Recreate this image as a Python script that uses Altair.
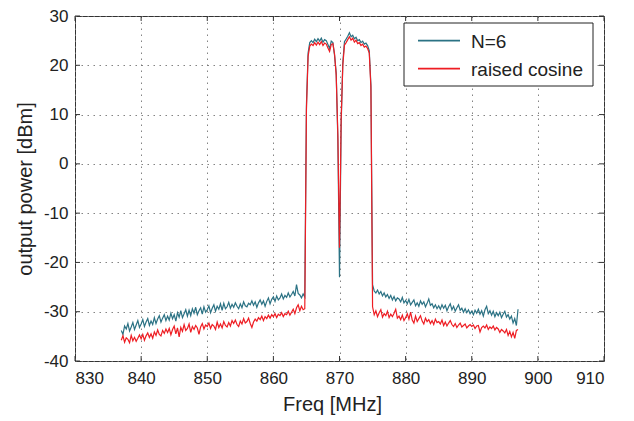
import altair as alt
import pandas as pd

# frequency grid of the measured spectra (MHz)
freq_start = 837.0
freq_step = 0.25

# N=6 output power (dBm), one row per MHz (4 samples each)
n6 = [
    -33.8, -34.6, -32.9, -33.5,
    -32.4, -33.9, -33.1, -32.2,
    -33.6, -32.7, -31.8, -33.2,
    -32.5, -31.6, -33.0, -32.1,
    -31.4, -32.8, -31.9, -32.6,
    -31.2, -32.4, -31.5, -30.8,
    -32.1, -31.3, -30.6, -31.8,
    -30.9, -31.7, -30.3, -31.4,
    -30.6, -31.9, -30.2, -31.1,
    -29.8, -31.2, -30.4, -29.6,
    -30.9, -29.7, -30.8, -29.4,
    -30.3, -29.1, -30.6, -29.8,
    -29.2, -30.5, -29.0, -30.1,
    -29.6, -28.8, -30.2, -29.3,
    -28.6, -29.9, -28.9, -29.5,
    -28.4, -29.7, -28.3, -29.4,
    -29.0, -28.1, -29.3, -28.5,
    -29.1, -28.2, -28.9, -29.4,
    -28.4, -29.2, -28.0, -28.8,
    -29.0, -28.3, -28.6, -27.8,
    -28.7, -28.0, -29.1, -28.2,
    -27.6, -28.5, -27.8, -28.9,
    -27.9, -27.2, -28.4, -27.5,
    -27.0, -27.9, -26.8, -27.6,
    -27.2, -26.4, -27.4, -26.7,
    -27.1, -26.2, -27.0, -26.5,
    -25.9, -26.8, -24.5, -26.3,
    -26.6, -27.2, -26.4, -27.0,
    12.0, 22.5, 24.6, 25.0,
    24.6, 25.3, 24.8, 25.4,
    24.9, 25.5, 24.7, 25.2,
    25.0, 24.2, 23.4, 24.9,
    24.6, 22.0, 18.5, 5.0,
    -23.0, 8.0, 20.5, 24.8,
    25.3, 25.9, 26.6, 25.8,
    26.1, 25.4, 25.7, 25.0,
    25.2, 24.6, 24.9, 24.3,
    24.5, 24.0, 23.0, 16.0,
    -24.5, -25.8, -26.2, -25.6,
    -26.4, -25.9, -26.8, -26.2,
    -27.0, -26.5, -27.3, -26.7,
    -27.6, -26.9, -27.8, -27.2,
    -27.4, -28.0, -27.1, -28.2,
    -27.7, -28.4, -27.5, -28.6,
    -28.1, -27.6, -28.8, -28.2,
    -28.9, -27.8, -28.5, -28.0,
    -29.0, -28.3, -27.4, -28.7,
    -28.4, -29.2, -28.6, -29.4,
    -28.8, -29.5, -28.6, -29.3,
    -28.7, -29.8, -29.0, -28.4,
    -29.6, -28.9, -29.9, -29.2,
    -28.6, -29.7, -29.3, -30.1,
    -29.4, -30.2, -29.6, -30.4,
    -29.9, -30.6, -29.7, -30.3,
    -29.5, -30.5, -29.8, -30.9,
    -29.6, -28.9, -30.4, -29.8,
    -30.7, -29.9, -31.0, -30.2,
    -30.8, -30.1, -31.2, -30.5,
    -29.9, -31.1, -30.6, -31.5,
    -30.9, -32.3, -31.4, -32.8,
    -29.5,
]

# raised cosine output power (dBm)
rc = [
    -35.8, -34.9, -36.2, -35.3,
    -35.6, -36.3, -34.8, -35.9,
    -35.2, -36.0, -35.4, -34.7,
    -35.5, -34.6, -35.8, -34.9,
    -34.3, -35.2, -34.5, -35.4,
    -34.1, -34.8, -33.7, -34.6,
    -34.9, -33.8, -34.4, -33.5,
    -34.2, -33.4, -34.7, -33.6,
    -32.9, -34.5, -33.3, -35.1,
    -33.2, -34.0, -32.6, -33.8,
    -33.4, -32.5, -34.2, -33.0,
    -33.6, -32.8, -33.3, -34.6,
    -33.1, -32.4, -33.5, -32.7,
    -33.0, -32.3, -33.4, -32.6,
    -32.9, -33.6, -32.1, -33.2,
    -32.5, -33.3, -32.0, -32.8,
    -33.1, -32.2, -32.9, -31.8,
    -32.4, -31.7, -32.6, -33.0,
    -31.9, -32.5, -31.4, -32.3,
    -32.0, -31.3, -32.4, -33.2,
    -32.1, -31.5, -31.9, -31.2,
    -31.6, -30.9, -31.8, -31.0,
    -31.4, -30.7, -31.3, -30.6,
    -31.0, -30.4, -31.2, -30.5,
    -30.8, -30.2, -31.0, -30.4,
    -30.6, -29.9, -30.7, -30.1,
    -29.5, -30.4, -29.2, -28.6,
    -29.8, -28.9, -29.6, -29.4,
    11.0, 21.8, 23.9, 24.3,
    24.0, 24.6, 24.1, 24.7,
    24.2, 24.8, 24.0, 24.5,
    24.3, 23.5, 22.8, 24.2,
    24.4, 22.3, 18.0, 6.0,
    -17.0, 9.0, 20.0, 24.1,
    24.6, 25.2, 25.8, 25.1,
    25.5, 24.7, 25.1, 24.4,
    24.6, 24.0, 24.3, 23.7,
    23.9, 23.4, 22.5, 15.5,
    -29.0, -30.6, -29.8, -31.0,
    -30.2, -29.6, -31.1, -30.4,
    -30.8, -29.9, -31.2, -30.5,
    -31.0, -30.3, -29.5, -31.3,
    -30.9, -31.6, -30.7, -31.8,
    -31.2, -30.4, -31.5, -30.1,
    -31.7, -32.3, -30.9, -32.0,
    -31.4, -30.8, -31.9, -32.5,
    -31.3, -32.0, -31.6, -32.4,
    -31.8, -32.6, -31.5, -32.2,
    -32.0, -32.5, -31.7, -32.8,
    -32.1, -32.9, -32.3, -31.8,
    -32.6, -33.0, -32.4, -33.2,
    -32.7, -32.3, -33.1, -32.8,
    -32.5, -33.3, -32.9, -32.6,
    -33.0, -32.7, -33.4, -32.9,
    -32.8, -34.1, -33.2, -32.9,
    -33.3, -32.7, -33.6, -33.1,
    -33.4, -32.9, -33.7, -33.2,
    -33.5, -34.2, -33.6, -33.9,
    -34.3, -33.6, -34.8, -34.0,
    -35.1, -34.2, -35.4, -33.8,
    -33.6,
]

x_ticks = [830, 840, 850, 860, 870, 880, 890, 900, 910]
y_ticks = [-40, -30, -20, -10, 0, 10, 20, 30]
series_names = ["N=6", "raised cosine"]
series_colors = ["#2b7284", "#ee1d23"]

W, H = 529, 345
FONT = "Liberation Sans"

freq = [freq_start + freq_step * i for i in range(len(n6))]
df = pd.DataFrame({
    "freq": freq + freq,
    "power": n6 + rc,
    "series": [series_names[0]] * len(n6) + [series_names[1]] * len(rc),
})

xscale = alt.Scale(domain=[830, 910], nice=False, zero=False)
yscale = alt.Scale(domain=[-40, 30], nice=False, zero=False)

x_axis = alt.Axis(values=x_ticks, title="Freq [MHz]", labelExpr="'' + datum.value",
                  titleX=257, titleY=43, titleBaseline="middle",
                  labelPadding=9)
y_axis = alt.Axis(values=y_ticks, title="output power [dBm]", labelExpr="'' + datum.value",
                  titleX=-50, titleY=H / 2, titleBaseline="middle",
                  titleAngle=-90, labelPadding=7)


def xenc():
    return alt.X("freq:Q", scale=xscale, axis=x_axis)


def yenc():
    return alt.Y("power:Q", scale=yscale, axis=y_axis)


lines = alt.Chart(df).mark_line(strokeWidth=1.2).encode(
    x=xenc(),
    y=yenc(),
    color=alt.Color("series:N",
                    scale=alt.Scale(domain=series_names, range=series_colors),
                    legend=None),
)

xt = pd.DataFrame({"freq": x_ticks})
yt = pd.DataFrame({"power": y_ticks})
tick_style = dict(color="#333", strokeWidth=1)
xtick_b = alt.Chart(xt).mark_rule(**tick_style).encode(
    x=xenc(), y=alt.value(H), y2=alt.value(H - 5))
xtick_t = alt.Chart(xt).mark_rule(**tick_style).encode(
    x=xenc(), y=alt.value(0), y2=alt.value(5))
ytick_l = alt.Chart(yt).mark_rule(**tick_style).encode(
    y=yenc(), x=alt.value(0), x2=alt.value(5))
ytick_r = alt.Chart(yt).mark_rule(**tick_style).encode(
    y=yenc(), x=alt.value(W), x2=alt.value(W - 5))

# legend box drawn as marks (box top-right of the plot)
one = pd.DataFrame({"k": [0]})
LX0, LX1, LY0, LY1 = 329, 518, 7, 70
row_y = [24.7, 52.7]
leg_box = alt.Chart(one).mark_rect(fill="white", stroke="#222", strokeWidth=1).encode(
    x=alt.value(LX0), x2=alt.value(LX1), y=alt.value(LY0), y2=alt.value(LY1))
leg_layers = [leg_box]
for name, col, ry in zip(series_names, series_colors, row_y):
    leg_layers.append(alt.Chart(one).mark_rule(color=col, strokeWidth=1.8).encode(
        x=alt.value(343), x2=alt.value(385), y=alt.value(ry)))
    leg_layers.append(alt.Chart(one).mark_text(
        text=name, align="left", baseline="middle", font=FONT, fontSize=19,
        color="#222").encode(x=alt.value(396), y=alt.value(ry + 1)))

chart = alt.layer(lines, xtick_b, xtick_t, ytick_l, ytick_r, *leg_layers).properties(
    width=W, height=H,
    autosize=alt.AutoSizeParams(type="none"),
    padding={"left": 75, "top": 16, "right": 30, "bottom": 60},
).configure_view(
    stroke="#333", strokeWidth=1
).configure_axis(
    domain=False, ticks=False, grid=True,
    gridColor="#777", gridDash=[1.5, 4.5], gridWidth=1, gridOpacity=0.9,
    labelFont=FONT, labelFontSize=17, labelColor="#222",
    titleFont=FONT, titleFontSize=20, titleFontWeight="normal", titleColor="#222",
)

chart.save("out.html", embed_options={"renderer": "svg", "actions": False})
